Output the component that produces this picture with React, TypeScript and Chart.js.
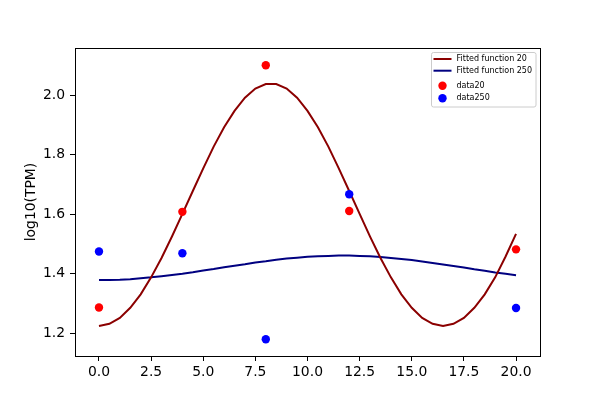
import React, { useEffect, useRef } from 'react';
import { Chart, registerables } from 'chart.js';

Chart.register(...registerables);

// measured time points and log10(TPM) values
const sampleTimes = [0, 4, 8, 12, 20];
const data20 = [1.287, 1.608, 2.1, 1.611, 1.482];
const data250 = [1.475, 1.469, 1.18, 1.667, 1.285];

// fitted curves at every 0.5
const fitX = [
  0, 0.5, 1, 1.5, 2, 2.5, 3, 3.5, 4, 4.5, 5, 5.5, 6, 6.5, 7, 7.5, 8, 8.5, 9, 9.5, 10,
  10.5, 11, 11.5, 12, 12.5, 13, 13.5, 14, 14.5, 15, 15.5, 16, 16.5, 17, 17.5, 18, 18.5, 19, 19.5, 20,
];
const fit20 = [
  1.225, 1.232, 1.252, 1.286, 1.331, 1.388, 1.453, 1.525, 1.601, 1.678, 1.754, 1.827, 1.892, 1.947,
  1.991, 2.022, 2.037, 2.037, 2.022, 1.991, 1.947, 1.892, 1.827, 1.754, 1.678, 1.601, 1.525, 1.453,
  1.388, 1.331, 1.286, 1.252, 1.232, 1.225, 1.232, 1.252, 1.286, 1.331, 1.388, 1.458, 1.534,
];
const fit250 = [
  1.379, 1.379, 1.38, 1.382, 1.385, 1.388, 1.392, 1.396, 1.4, 1.405, 1.411, 1.416, 1.422, 1.427,
  1.432, 1.438, 1.442, 1.447, 1.451, 1.454, 1.457, 1.459, 1.46, 1.461, 1.461, 1.46, 1.459, 1.456,
  1.453, 1.45, 1.446, 1.441, 1.436, 1.431, 1.426, 1.421, 1.415, 1.41, 1.404, 1.4, 1.395,
];

const xTicks = [0, 2.5, 5, 7.5, 10, 12.5, 15, 17.5, 20];
const yTicks = [1.2, 1.4, 1.6, 1.8, 2.0];

const FONT = 'DejaVu Sans';

// black box round the plot area, like matplotlib spines
const frame = {
  id: 'frame',
  afterDatasetsDraw(chart: any) {
    const { ctx, chartArea: a } = chart;
    ctx.save();
    ctx.strokeStyle = '#000';
    ctx.lineWidth = 1;
    ctx.strokeRect(Math.round(a.left) + 0.5, Math.round(a.top) + 0.5, Math.round(a.right - a.left), Math.round(a.bottom - a.top));
    ctx.restore();
  },
};

// legend drawn inside the upper right corner (line rows sit closer than marker rows)
const rowOffsets = [6.5, 18.2, 33.2, 45.8];

const boxLegend = {
  id: 'boxLegend',
  afterDraw(chart: any) {
    const { ctx, chartArea: a } = chart;
    const x0 = a.right - 108.5;
    const y0 = a.top + 4.5;
    ctx.save();
    ctx.beginPath();
    ctx.roundRect(x0, y0, 104.5, 54.5, 2);
    ctx.fillStyle = 'rgba(255,255,255,0.8)';
    ctx.fill();
    ctx.strokeStyle = '#cccccc';
    ctx.lineWidth = 1;
    ctx.stroke();
    ctx.font = `8px "${FONT}"`;
    ctx.textBaseline = 'middle';
    chart.data.datasets.forEach((ds: any, i: number) => {
      const y = y0 + rowOffsets[i];
      if (ds.showLine) {
        ctx.strokeStyle = ds.borderColor;
        ctx.lineWidth = 2;
        ctx.beginPath();
        ctx.moveTo(x0 + 2, y);
        ctx.lineTo(x0 + 20, y);
        ctx.stroke();
      } else {
        ctx.fillStyle = ds.backgroundColor;
        ctx.beginPath();
        ctx.arc(x0 + 11, y, 4.2, 0, Math.PI * 2);
        ctx.fill();
      }
      ctx.fillStyle = '#000';
      ctx.fillText(ds.label, x0 + 25, y);
    });
    ctx.restore();
  },
};

export default function App() {
  const chartRef = useRef<HTMLCanvasElement>(null);

  useEffect(() => {
    document.body.style.margin = '0';
    if (!chartRef.current) return;

    const chart = new Chart(chartRef.current, {
      type: 'scatter',
      data: {
        datasets: [
          {
            label: 'Fitted function 20',
            data: fitX.map((x, i) => ({ x, y: fit20[i] })),
            showLine: true,
            borderColor: '#8b0000',
            borderWidth: 2,
            pointRadius: 0,
            order: 2,
          },
          {
            label: 'Fitted function 250',
            data: fitX.map((x, i) => ({ x, y: fit250[i] })),
            showLine: true,
            borderColor: '#000080',
            borderWidth: 2,
            pointRadius: 0,
            order: 2,
          },
          {
            label: 'data20',
            data: sampleTimes.map((x, i) => ({ x, y: data20[i] })),
            backgroundColor: '#ff0000',
            borderColor: '#ff0000',
            borderWidth: 0,
            pointRadius: 4.2,
            order: 1,
          },
          {
            label: 'data250',
            data: sampleTimes.map((x, i) => ({ x, y: data250[i] })),
            backgroundColor: '#0000ff',
            borderColor: '#0000ff',
            borderWidth: 0,
            pointRadius: 4.2,
            order: 1,
          },
        ],
      },
      options: {
        responsive: true,
        maintainAspectRatio: false,
        animation: false,
        layout: { padding: { top: 48, right: 60, left: 0, bottom: 0 } },
        plugins: {
          legend: { display: false },
          tooltip: { enabled: false },
        },
        scales: {
          x: {
            type: 'linear',
            min: -1.15,
            max: 21.15,
            afterBuildTicks: (scale: any) => {
              scale.ticks = xTicks.map(v => ({ value: v }));
            },
            afterFit: (scale: any) => {
              scale.height = 44;
            },
            grid: { drawOnChartArea: false, color: '#000', tickLength: 5 },
            border: { display: false },
            ticks: {
              color: '#000',
              padding: 3,
              maxRotation: 0,
              font: { family: FONT, size: 13.9 },
              callback: (v: any) => Number(v).toFixed(1),
            },
          },
          y: {
            type: 'linear',
            min: 1.124,
            max: 2.158,
            afterBuildTicks: (scale: any) => {
              scale.ticks = yTicks.map(v => ({ value: v }));
            },
            afterFit: (scale: any) => {
              scale.width = 75;
            },
            grid: { drawOnChartArea: false, color: '#000', tickLength: 5 },
            border: { display: false },
            title: {
              display: true,
              text: 'log10(TPM)',
              color: '#000',
              font: { family: FONT, size: 13.9 },
              padding: { top: 23, bottom: 0 },
            },
            ticks: {
              color: '#000',
              padding: 5,
              font: { family: FONT, size: 13.9 },
              callback: (v: any) => Number(v).toFixed(1),
            },
          },
        },
      },
      plugins: [frame, boxLegend],
    });

    return () => {
      chart.destroy();
    };
  }, []);

  return (
    <div style={{ position: 'relative', width: '600px', height: '400px' }}>
      <canvas ref={chartRef}></canvas>
    </div>
  );
}
